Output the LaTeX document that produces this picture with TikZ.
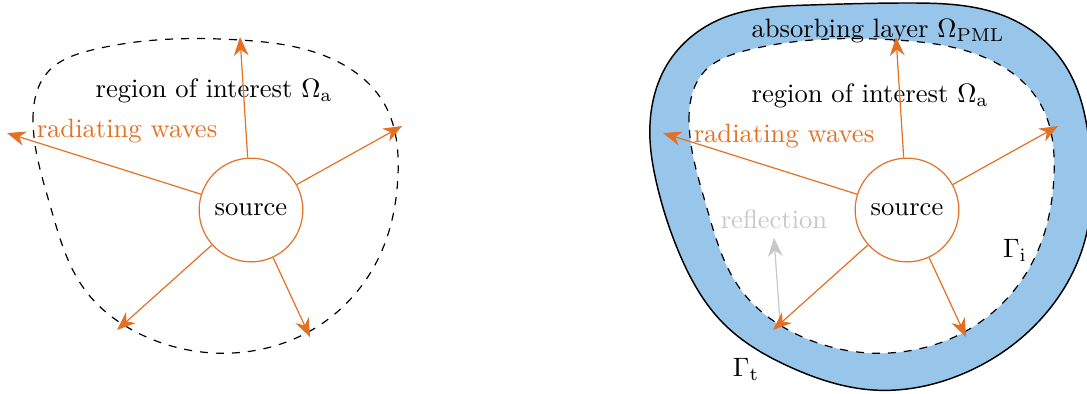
\documentclass[tikz,border=0pt]{standalone}
\usetikzlibrary{arrows.meta,hobby}
\definecolor{wave}{RGB}{228,112,35}
\definecolor{pml}{RGB}{152,198,234}
\definecolor{refl}{RGB}{200,200,200}
\begin{document}
\begin{tikzpicture}[x=0.376pt,y=-0.376pt,
  wavearrow/.style={draw=wave, line width=0.45pt, -{Stealth[length=7pt,width=5.5pt,inset=2.2pt]}},
  reflarrow/.style={draw=refl, line width=0.45pt, -{Stealth[length=7pt,width=5.5pt,inset=2.2pt]}},
  srcnode/.style={circle, draw=wave, line width=0.45pt, fill=white, minimum size=39pt, inner sep=0pt},
  boundary/.style={draw=black, dashed, line width=0.45pt},
  outerb/.style={draw=black, fill=pml, line width=0.55pt},
  wavetext/.style={text=wave},
  refltext/.style={text=refl}]
\useasboundingbox (0,0) rectangle (1087,394);

% ---------------- left picture ----------------
\draw[boundary] plot[closed hobby] coordinates {(33,120) (47,73) (92,50) (240,40) (330,58) (385,105) (398,175) (380,255) (320,325) (233,353) (140,334) (85,290) (50,205)};
\node (roiL) at (214,91) {region of interest $\Omega_\mathrm{a}$};
\node[wavetext] (radL) at (127,131) {radiating waves};
\node[srcnode] (srcL) at (251,210) {source};
\coordinate (uL) at (240,37);
\coordinate (lL) at (7,133);
\coordinate (rL) at (402,126);
\coordinate (llL) at (117,330);
\coordinate (lrL) at (310,337);
\foreach \t in {uL,lL,rL,llL,lrL} \draw[wavearrow] (srcL) -- (\t);

% ---------------- right picture ----------------
\draw[outerb] plot[closed hobby] coordinates {(650,140) (670,60) (723,18) (810,5) (910,3) (1007,17) (1065,65) (1090,150) (1085,240) (1040,320) (960,375) (873,390) (790,367) (723,323) (680,255) (657,185)};
\begin{scope}[shift={(656,0)}]
\draw[boundary, fill=white] plot[closed hobby] coordinates {(33,120) (47,73) (92,50) (240,40) (330,58) (385,105) (398,175) (380,255) (320,325) (233,353) (140,334) (85,290) (50,205)};
\end{scope}
\node (pml) at (878,31) {absorbing layer $\Omega_\mathrm{PML}$};
\node (roiR) at (870,96) {region of interest $\Omega_\mathrm{a}$};
\node[wavetext] (radR) at (784,136) {radiating waves};
\node[refltext] (refl) at (774,219) {reflection};
\node (gi) at (1015,250) {$\Gamma_\mathrm{i}$};
\node (gt) at (746,369) {$\Gamma_\mathrm{t}$};
\node[srcnode] (srcR) at (907,210) {source};
\coordinate (uR) at (896,37);
\coordinate (lR) at (663,133);
\coordinate (rR) at (1058,126);
\coordinate (llR) at (773,330);
\coordinate (lrR) at (966,337);
\coordinate (reflS) at (780,322);
\draw[reflarrow] (reflS) -- (refl.south);
\foreach \t in {uR,lR,rR,llR,lrR} \draw[wavearrow] (srcR) -- (\t);
\end{tikzpicture}
\end{document}
